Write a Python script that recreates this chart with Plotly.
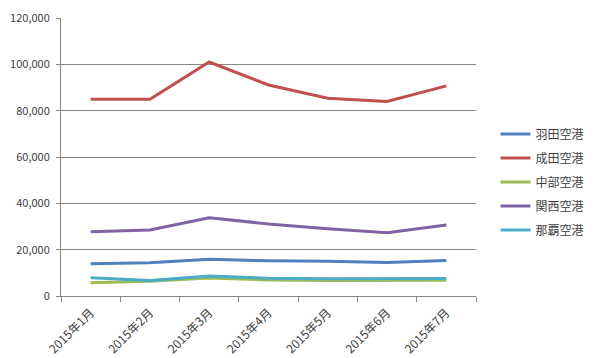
import plotly.graph_objects as go

months = ["2015年1月", "2015年2月", "2015年3月", "2015年4月", "2015年5月", "2015年6月", "2015年7月"]
series_names = ["羽田空港", "成田空港", "中部空港", "関西空港", "那覇空港"]
haneda = [13900, 14300, 15900, 15200, 15000, 14500, 15300]
narita = [84900, 84900, 101000, 91100, 85400, 84000, 90700]
chubu = [5700, 6400, 7800, 6900, 6700, 6700, 6800]
kansai = [27700, 28500, 33800, 31100, 29000, 27300, 30600]
naha = [7900, 6700, 8600, 7700, 7400, 7500, 7600]
colors = ["#4F81BD", "#C0504D", "#9BBB59", "#8064A2", "#4BACC6"]
y_ticks = [0, 20000, 40000, 60000, 80000, 100000, 120000]

fig = go.Figure()
for name, vals, col in zip(series_names, [haneda, narita, chubu, kansai, naha], colors):
    fig.add_trace(go.Scatter(x=months, y=vals, name=name, mode="lines",
                             line=dict(color=col, width=3), legendgroup=name))

font_family = "Noto Sans CJK JP, Noto Sans, sans-serif"
fig.update_layout(
    width=592, height=350,
    margin=dict(l=53, r=112, t=10, b=62),
    paper_bgcolor="white", plot_bgcolor="white",
    font=dict(family=font_family, size=12, color="#404040"),
    showlegend=True,
    legend=dict(x=1.047, y=0.41, xanchor="left", yanchor="middle",
                font=dict(size=12, color="#404040"), tracegroupgap=5,
                itemwidth=30, bgcolor="rgba(0,0,0,0)"),
    xaxis=dict(type="category", range=[-0.5, 6.5], tickangle=-45, showgrid=False, showline=True,
               linecolor="#868686", linewidth=1, ticks="outside", tickson="boundaries",
               ticklen=5, tickcolor="#868686", tickfont=dict(size=12), automargin=False,
               ticklabelstandoff=4, ticklabeloverflow="allow"),
    yaxis=dict(range=[0, 120000], tickvals=y_ticks, tickformat=",", showgrid=True,
               gridcolor="#868686", gridwidth=1, showline=True, linecolor="#868686",
               zeroline=False, ticks="outside", ticklen=4, tickcolor="#868686",
               ticklabelstandoff=4, tickfont=dict(size=11), automargin=False,
               ticklabeloverflow="allow"),
)
fig.write_html("out.html")
